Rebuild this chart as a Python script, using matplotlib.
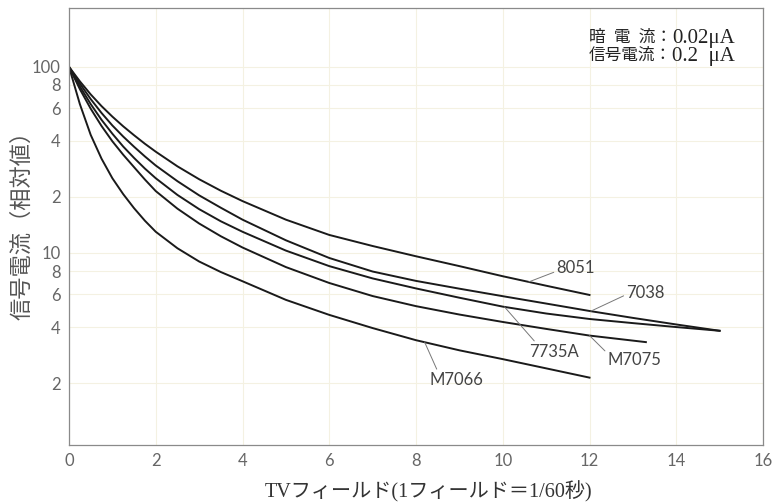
import numpy as np
import matplotlib
matplotlib.use("Agg")
import matplotlib.pyplot as plt

# 残像特性: TVフィールド数に対する信号電流(相対値)
fields = [0, 0.25, 0.5, 0.75, 1, 1.25, 1.5, 1.75, 2, 2.5, 3, 3.5, 4,
          5, 6, 7, 8, 9, 10, 11, 12, 13, 14, 15]

x_8051 = fields[:21]
y_8051 = [100, 83.6, 71.1, 61.5, 54.0, 47.9, 42.9, 38.6, 35.0, 29.2, 24.9, 21.6, 19.0,
          15.1, 12.5, 10.9, 9.6, 8.5, 7.5, 6.67, 5.95]

x_7038 = fields
y_7038 = [100, 81.3, 67.1, 56.5, 48.4, 42.2, 37.2, 33.0, 29.5, 24.3, 20.4, 17.5, 15.1,
          11.7, 9.4, 7.95, 7.08, 6.43, 5.86, 5.35, 4.88, 4.48, 4.13, 3.82]

x_7735a = fields
y_7735a = [100, 78.5, 63.1, 51.9, 43.7, 37.3, 32.4, 28.4, 25.2, 20.5, 17.2, 14.8, 13.0,
           10.3, 8.5, 7.3, 6.45, 5.75, 5.15, 4.73, 4.42, 4.2, 4.0, 3.82]

x_m7075 = fields[:21] + [13.3]
y_m7075 = [100, 75.9, 59.6, 48.1, 39.8, 33.7, 28.9, 24.8, 21.5, 17.3, 14.4, 12.3, 10.7,
           8.4, 6.9, 5.87, 5.18, 4.67, 4.26, 3.91, 3.6, 3.32]

x_m7066 = fields[:21]
y_m7066 = [100, 63.1, 43.1, 32.1, 25.2, 20.7, 17.4, 14.9, 13.0, 10.6, 9.0, 7.9, 7.05,
           5.6, 4.65, 3.95, 3.4, 3.0, 2.69, 2.4, 2.14]

series = [
    ("8051", x_8051, y_8051),
    ("7038", x_7038, y_7038),
    ("7735A", x_7735a, y_7735a),
    ("M7075", x_m7075, y_m7075),
    ("M7066", x_m7066, y_m7066),
]

# ラベル位置: (引出し線の付け根x, 文字位置x, 文字位置y, relpos)
label_pos = {
    "8051": (10.6, 11.24, 8.3, (0.0, 0.3)),
    "7038": (12.03, 12.85, 6.1, (0.0, 0.4)),
    "7735A": (10.04, 10.61, 2.95, (0.15, 1.0)),
    "M7075": (12.0, 12.42, 2.66, (0.0, 0.9)),
    "M7066": (8.2, 8.32, 2.08, (0.15, 1.0)),
}

yticks = [2, 4, 6, 8, 10, 20, 40, 60, 80, 100]
ytick_labels = ['2', '4', '6', '8', '10', '2', '4', '6', '8', '100']
xticks = list(range(0, 17, 2))

# 測定条件 (項目, 値)
conditions = [('暗  電  流：', '0.02μA'), ('信号電流：', '0.2  μA')]

jp = ['Liberation Serif', 'Noto Sans CJK JP']
tick_font = dict(family='Lato', size=12, color='#666666')

fig = plt.figure(figsize=(7.73, 5.04), dpi=100, facecolor='white')
ax = fig.add_axes([69 / 773, 59 / 504, 694 / 773, 437 / 504])

for name, xs, ys in series:
    ax.plot(xs, ys, color='#1a1a1a', lw=1.4)

for name, xs, ys in series:
    px, tx, ty, rp = label_pos[name]
    py = 10 ** np.interp(px, xs, np.log10(ys))
    ax.annotate(name, xy=(px, py), xytext=(tx, ty), ha='left', va='center',
                fontfamily='Lato', fontsize=12, color='#444444',
                arrowprops=dict(arrowstyle='-', color='#777777', lw=0.7,
                                shrinkA=0, shrinkB=0, relpos=rp))

ax.set_yscale('log')
ax.set_xlim(0, 16)
ax.set_ylim(0.93, 207)
ax.set_xticks(xticks)
ax.set_xticklabels([str(v) for v in xticks], **tick_font)
ax.set_yticks(yticks)
ax.set_yticklabels(ytick_labels, **tick_font)
ax.yaxis.set_minor_locator(matplotlib.ticker.NullLocator())
ax.tick_params(length=0, pad=6)

ax.grid(True, color='#f4f1e2', lw=0.8)
ax.set_axisbelow(True)
for s in ax.spines.values():
    s.set_color('#8a8a8a')
    s.set_linewidth(0.9)

fig.text(429 / 773, 1 - 492 / 504, 'TVフィールド(1フィールド＝1/60秒)', family=jp,
         fontsize=14.5, color='#333333', ha='center', va='center')
fig.text(23 / 773, 1 - 220 / 504, '信号電流（相対値）', family=jp, fontsize=16,
         color='#555555', rotation=90, ha='center', va='center')

# 右上の条件: 値を右寄せで置き、その左に項目名を付ける
for i, (key, val) in enumerate(conditions):
    yy = 1 - (38 + 18 * i) / 504
    t = fig.text(735 / 773, yy, val, ha='right', va='center', family='Liberation Serif',
                 fontsize=15, color='#222222')
    ax.annotate(key, xy=(0, 0.5), xycoords=t, ha='right', va='center',
                family=jp, fontsize=12, color='#222222')

fig.savefig('out.png', dpi=100, facecolor='white')
